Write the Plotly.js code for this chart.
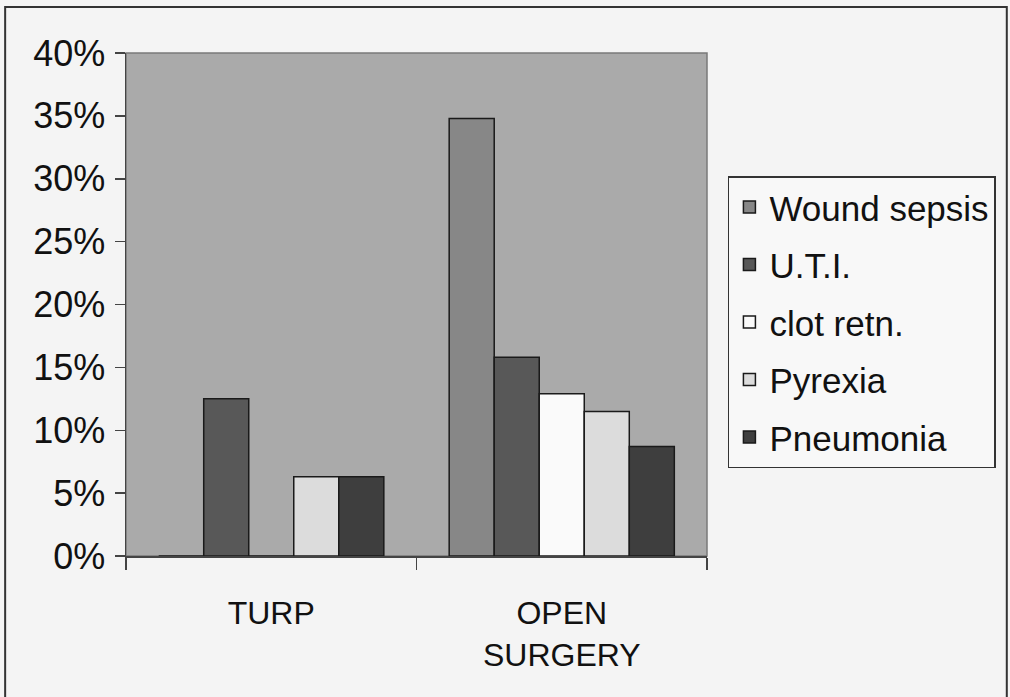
<!DOCTYPE html>
<html>
<head>
<meta charset="utf-8">
<script src="https://cdn.plot.ly/plotly-3.0.1.min.js"></script>
<style>
  html, body { margin: 0; padding: 0; background: #f4f4f4; }
  #chart { width: 1010px; height: 697px; }
</style>
</head>
<body>
<div id="chart"></div>
<script>
// Categories (procedures)
const categories = ["TURP", "OPEN<br>SURGERY"];

// Series (complication rates, fraction)
const seriesNames = ["Wound sepsis", "U.T.I.", "clot retn.", "Pyrexia", "Pneumonia"];
const woundSepsis = [0.000, 0.348];
const uti         = [0.125, 0.158];
const clotRetn    = [0.000, 0.129];
const pyrexia     = [0.063, 0.115];
const pneumonia   = [0.063, 0.087];

// Y tick values / labels
const yTickVals  = [0, 0.05, 0.10, 0.15, 0.20, 0.25, 0.30, 0.35, 0.40];
const yTickText  = ["0%", "5%", "10%", "15%", "20%", "25%", "30%", "35%", "40%"];

const seriesValues = [woundSepsis, uti, clotRetn, pyrexia, pneumonia];
const seriesColors = ["#878787", "#585858", "#fafafa", "#dcdcdc", "#3e3e3e"];

const traces = seriesNames.map((name, i) => ({
  type: "bar",
  name: name,
  x: categories,
  y: seriesValues[i],
  legendgroup: "g" + i,
  marker: { color: seriesColors[i], line: { color: "#1a1a1a", width: 1.5 } },
  hoverinfo: "skip"
}));

const fontFam = "Liberation Sans, Arial, sans-serif";

const layout = {
  width: 1010,
  height: 697,
  margin: { l: 126, r: 303, t: 53, b: 141 },
  paper_bgcolor: "#f4f4f4",
  plot_bgcolor: "#aaaaaa",
  barmode: "group",
  bargap: 0.225,
  bargroupgap: 0,
  showlegend: true,
  font: { family: fontFam, color: "#111111" },
  xaxis: {
    type: "category",
    tickson: "boundaries",
    ticks: "outside",
    ticklen: 12,
    tickwidth: 1.5,
    tickcolor: "#444444",
    showline: true,
    linecolor: "#444444",
    linewidth: 1.5,
    showgrid: false,
    zeroline: false,
    tickfont: { family: fontFam, size: 32, color: "#111111" },
    ticklabelstandoff: 28
  },
  yaxis: {
    range: [0, 0.40],
    tickvals: yTickVals,
    ticktext: yTickText,
    ticks: "outside",
    ticklen: 10,
    tickwidth: 1.5,
    tickcolor: "#444444",
    showline: true,
    linecolor: "#444444",
    linewidth: 1.5,
    showgrid: false,
    zeroline: false,
    tickfont: { family: fontFam, size: 36, color: "#111111" },
    ticklabelstandoff: 2
  },
  legend: {
    x: 1.036,
    y: 0.755,
    xanchor: "left",
    yanchor: "top",
    bgcolor: "#f8f8f8",
    bordercolor: "#333333",
    borderwidth: 1.5,
    font: { family: fontFam, size: 35, color: "#111111" },
    traceorder: "grouped",
    tracegroupgap: 9,
    itemwidth: 30
  },
  shapes: [
    {
      type: "rect", xref: "paper", yref: "paper",
      x0: 0, x1: 1, y0: 0, y1: 1,
      line: { color: "#7a7a7a", width: 1.5 },
      fillcolor: "rgba(0,0,0,0)",
      layer: "below"
    },
    {
      type: "rect", xref: "paper", yref: "paper",
      x0: -0.208, x1: 1.516, y0: -0.5, y1: 1.0915,
      line: { color: "#333333", width: 2 },
      fillcolor: "rgba(0,0,0,0)",
      layer: "above"
    }
  ]
};

Plotly.newPlot("chart", traces, layout, { displayModeBar: false, staticPlot: true });
</script>
</body>
</html>
